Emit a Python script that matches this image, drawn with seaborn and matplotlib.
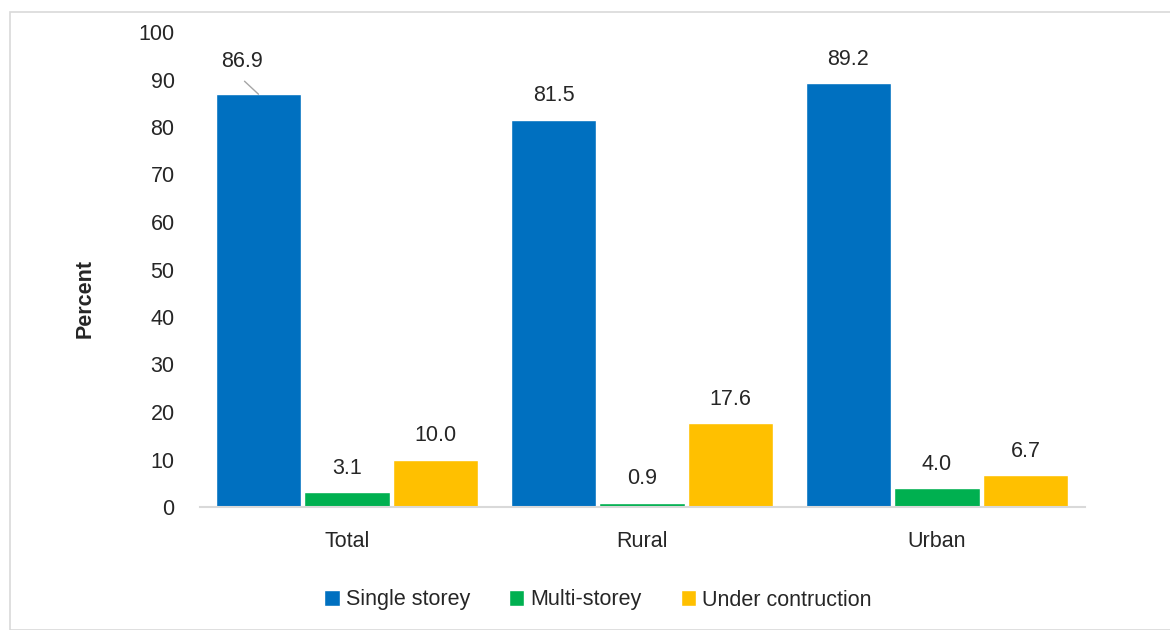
import matplotlib
matplotlib.use("Agg")
import matplotlib.pyplot as plt
import seaborn as sns
import pandas as pd
from matplotlib.patches import Rectangle

areas = ["Total", "Rural", "Urban"]
types = ["Single storey", "Multi-storey", "Under contruction"]
single = [86.9, 81.5, 89.2]
multi = [3.1, 0.9, 4.0]
under = [10.0, 17.6, 6.7]
colors = ["#0070C0", "#00B050", "#FFC000"]

rows = []
for i, a in enumerate(areas):
    for t, vals in zip(types, [single, multi, under]):
        rows.append({"area": a, "type": t, "value": vals[i]})
df = pd.DataFrame(rows)

sns.set_style("white")
plt.rcParams["font.family"] = ["Liberation Sans", "DejaVu Sans"]

W, H = 1170, 630
fig = plt.figure(figsize=(W / 100, H / 100), dpi=100)
ax = fig.add_axes([199.5 / W, 1 - 507 / H, 885 / W, (507 - 32) / H])

sns.barplot(data=df, x="area", y="value", hue="type", palette=colors,
            width=0.9, gap=0.03, ax=ax, legend=True, saturation=1)

ax.set_ylim(0, 100)
ax.set_xlim(-0.5, 2.5)
ax.set_yticks(range(0, 101, 10))
ax.tick_params(axis="both", length=0, labelsize=15.5)
ax.tick_params(axis="y", pad=18)
ax.tick_params(axis="x", pad=17)
ax.set_xlabel("")
ax.set_ylabel("Percent", fontsize=15.5, fontweight="bold")
ax.yaxis.set_label_coords((96 - 199.5) / 885, (507 - 299) / 475)
for s in ["top", "right", "left"]:
    ax.spines[s].set_visible(False)
ax.spines["bottom"].set_color("#D9D9D9")
ax.spines["bottom"].set_linewidth(1.5)

for ci, cont in enumerate(ax.containers):
    for bi, bar in enumerate(cont):
        h = bar.get_height()
        xc = bar.get_x() + bar.get_width() / 2
        if ci == 0 and bi == 0:
            # label moved up-left with a leader line
            ax.annotate(f"{h:.1f}", xy=(xc, h), xytext=(-17, 33),
                        textcoords="offset pixels", ha="center", va="center",
                        fontsize=15.5)
            ax.annotate("", xy=(xc, h), xytext=(-14, 13), textcoords="offset pixels",
                        arrowprops=dict(arrowstyle="-", color="#A6A6A6", lw=1,
                                        shrinkA=0, shrinkB=0))
        else:
            ax.annotate(f"{h:.1f}", xy=(xc, h), xytext=(0, 24),
                        textcoords="offset pixels", ha="center", va="center",
                        fontsize=15.5)

ax.legend(loc="center", bbox_to_anchor=(598 / W, 1 - 600 / H),
          bbox_transform=fig.transFigure, ncol=3, frameon=False,
          fontsize=15.5, handlelength=0.7, handleheight=0.7, handletextpad=0.3,
          columnspacing=1.8)

fig.patches.append(Rectangle((10 / W, 0), 1.2, 1 - 12 / H, transform=fig.transFigure,
                             fill=False, edgecolor="#D9D9D9", lw=1.2))

fig.savefig("out.png", dpi=100)
